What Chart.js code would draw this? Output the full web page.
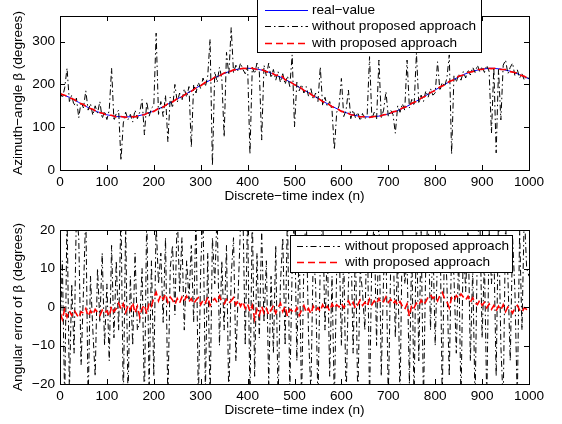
<!DOCTYPE html>
<html>
<head>
<meta charset="utf-8">
<script src="https://cdn.jsdelivr.net/npm/chart.js@4"></script>
<style>
  html, body { margin: 0; padding: 0; background: #fff; }
  #wrap { position: relative; width: 562px; height: 424px; }
  canvas { position: absolute; left: 0; }
  #top { top: 0; }
  #bottom { top: 210px; }
</style>
</head>
<body>
<div id="wrap">
  <canvas id="top" width="562" height="210"></canvas>
  <canvas id="bottom" width="562" height="214"></canvas>
</div>
<script>
/* DATA */
const xTicks = [0, 100, 200, 300, 400, 500, 600, 700, 800, 900, 1000];

// top: azimuth angle, real value every 20 samples
const realStep = 20;
const realValue = [178, 170, 158, 146, 136, 129, 125, 124, 125, 130,
  138, 148, 160, 172, 185, 198, 210, 221, 230, 236,
  238, 236, 231, 222, 212, 200, 187, 174, 161, 149,
  138, 130, 125, 124, 126, 131, 139, 149, 161, 174,
  187, 200, 212, 223, 231, 236, 238, 236, 231, 223, 213];

// top: with proposed approach, every 10 samples
const withStep = 10;
const withAngle = [178, 175, 169, 165, 157, 153, 145, 142, 135, 133,
  128, 128, 124, 125, 123, 125, 124, 128, 129, 135,
  137, 144, 147, 155, 159, 167, 171, 179, 184, 192,
  197, 205, 209, 217, 220, 227, 229, 234, 235, 238,
  237, 238, 235, 235, 230, 228, 221, 223, 211, 207,
  199, 195, 186, 181, 173, 168, 160, 156, 148, 144,
  137, 135, 129, 128, 124, 125, 123, 125, 125, 129,
  130, 136, 138, 145, 148, 156, 160, 168, 173, 181,
  186, 194, 199, 207, 211, 219, 222, 228, 230, 235,
  235, 238, 237, 238, 235, 235, 230, 228, 222, 219, 212];

// top: without proposed approach, every 5 samples
const withoutStep = 5;
const withoutAngle = [185, 168, 192, 238, 160, 175, 150, 168, 122, 160,
  145, 185, 140, 155, 128, 150, 133, 160, 120, 138,
  118, 140, 238, 115, 132, 140, 22, 110, 135, 118,
  130, 112, 140, 120, 135, 165, 82, 160, 125, 145,
  150, 320, 130, 160, 125, 175, 66, 170, 145, 200,
  158, 180, 162, 190, 170, 195, 53, 200, 180, 205,
  190, 215, 195, 220, 306, 10, 230, 205, 240, 215,
  77, 275, 222, 333, 228, 245, 230, 250, 235, 225,
  245, 37, 240, 225, 250, 230, 70, 245, 220, 250,
  215, 235, 210, 230, 205, 225, 200, 220, 195, 269,
  101, 205, 185, 200, 180, 195, 172, 190, 165, 180,
  160, 241, 150, 170, 148, 160, 140, 47, 135, 150,
  214, 125, 140, 187, 120, 140, 122, 135, 115, 132,
  118, 130, 265, 120, 135, 118, 257, 122, 140, 183,
  125, 140, 130, 86, 150, 135, 155, 140, 257, 145,
  165, 150, 273, 155, 175, 160, 185, 170, 190, 175,
  180, 253, 185, 205, 195, 215, 269, 37, 220, 205,
  225, 210, 230, 215, 235, 222, 240, 228, 245, 230,
  242, 228, 245, 230, 86, 240, 40, 235, 117, 245,
  257, 225, 240, 250, 220, 235, 215, 225, 210, 220, 213];

// bottom: angular error, every 5 samples
const errStep = 5;
const errWithout = [-8, 12, -25, 25, -22, 6, -12, 25, 18, -15,
  4, 25, -25, 8, -6, -18, 10, -4, 14, -10,
  6, -14, 16, -8, 12, -6, 25, -25, 22, -24,
  8, -10, 14, -6, -4, 10, -25, 25, -22, 12,
  -18, 22, 6, 14, -4, 18, -25, 10, 16, -2,
  25, 4, 18, -6, 12, 2, 16, -4, 25, -25,
  10, 25, -22, 14, -25, 18, 6, 25, -10, 12,
  -6, 16, -25, 8, 18, -14, 4, 22, 25, -10,
  25, -25, 25, -18, 14, -8, 20, -4, 12, -20,
  8, -12, 16, -25, 6, 18, -10, 25, -22, 10,
  25, -14, 18, -25, 12, 25, -8, -22, 14, 6,
  -25, 12, 25, -6, 16, -18, 8, -25, 10, 18,
  -10, 14, -25, 6, 20, -12, 16, -25, 10, 4,
  -6, 25, -25, 14, 22, -10, 25, -18, 8, 16,
  -25, 10, 18, -8, 14, -25, 22, 6, 12, -20,
  16, -25, 25, -14, 20, -25, 12, 25, -6, 18,
  -10, 14, 25, -25, 20, 6, -18, 16, 8, -12,
  14, -25, 18, 4, 22, -14, 10, -25, 16, 25,
  -8, 12, -25, 20, 6, 16, -18, 25, -10, -25,
  22, 8, -14, 18, 4, -25, 20, -6, 25, 10, 8];

const errWith = [-1.5, -3.2, -0.5, -2.6, -1.0, -2.2, -0.8, -1.8, -2.8, -1.2,
  -1.6, -0.4, -2.4, -1.0, -2.0, -0.6, -1.4, -2.2, -0.8, -1.6,
  -1.0, -2.4, 0.2, -1.2, -0.4, 1.0, -0.6, 0.8, -1.4, 0.4,
  -0.8, 1.2, -1.6, 0.2, -2.6, -0.4, 0.6, -1.8, 1.0, 0.2,
  2.4, 3.8, 1.6, 3.2, 2.0, 3.4, 1.2, 2.6, 1.8, 0.6,
  2.2, 1.0, 2.6, 1.6, 2.8, 1.4, 2.2, 0.8, 1.8, 2.4,
  0.6, 1.8, 1.0, 2.6, 0.4, 1.6, 2.2, 1.2, 2.8, 1.4,
  0.8, 2.0, 1.0, 1.6, 2.4, 0.6, 1.8, 0.2, 1.4, -0.4,
  0.8, -1.2, 0.4, -3.2, -0.6, -2.2, 0.2, -1.6, -0.4, -2.0,
  -0.8, 0.4, -1.6, -0.2, 1.0, -1.2, 0.2, -2.4, -0.6, -1.0,
  -1.6, -0.2, -2.2, -0.8, 0.4, -1.4, -0.4, -1.8, 0.2, -1.0,
  -0.2, -1.2, 0.6, -0.6, 0.2, -1.0, 0.8, -0.4, 0.6, 0.0,
  1.0, -0.2, 0.8, 1.6, 0.2, 1.2, -0.4, 0.6, 1.8, 0.4,
  1.2, 0.2, 2.0, 0.6, 1.6, 0.8, 2.2, 1.0, 1.4, 2.6,
  1.2, 2.0, 0.8, 1.6, 0.4, 1.4, 0.2, -0.6, 0.8, -2.4,
  0.6, -0.2, 1.0, 0.4, 1.8, 0.6, 1.4, 2.6, 3.2, 2.2,
  2.8, 1.6, 3.0, 3.8, 2.2, 1.4, -0.2, 2.4, 1.6, 3.0,
  2.2, 3.4, 2.6, 1.8, 2.8, 1.2, 2.4, 1.0, 0.6, 1.8,
  0.4, 1.2, -0.2, 0.8, -0.6, 0.4, -1.0, 0.2, -0.8, 0.6,
  -1.2, 0.0, -0.4, -1.6, -0.2, 0.4, -0.8, -1.4, -0.2, -0.6, -0.4];

/* HELPERS */
const FONT = '"Liberation Sans", Arial, Helvetica, sans-serif';
const FSIZE = 13.6;
Chart.defaults.font.family = FONT;
Chart.defaults.font.size = FSIZE;
Chart.defaults.color = '#000';

const pts = (vals, step) => vals.map((v, i) => ({ x: i * step, y: v }));
const minus = v => (v < 0 ? '\u2212' + Math.abs(v) : String(v));

// matlab-like box with inward ticks on all four sides
const frame = {
  id: 'frame',
  afterDatasetsDraw(chart) {
    const { ctx, chartArea: a, scales: { x, y } } = chart;
    ctx.save();
    ctx.strokeStyle = '#000';
    ctx.lineWidth = 1;
    ctx.setLineDash([]);
    ctx.strokeRect(a.left + 0.5, a.top + 0.5, a.right - a.left, a.bottom - a.top);
    ctx.beginPath();
    x.ticks.forEach(t => {
      const px = Math.round(x.getPixelForValue(t.value)) + 0.5;
      ctx.moveTo(px, a.bottom); ctx.lineTo(px, a.bottom - 5);
      ctx.moveTo(px, a.top); ctx.lineTo(px, a.top + 5);
    });
    y.ticks.forEach(t => {
      const py = Math.round(y.getPixelForValue(t.value)) + 0.5;
      ctx.moveTo(a.left, py); ctx.lineTo(a.left + 5, py);
      ctx.moveTo(a.right, py); ctx.lineTo(a.right - 5, py);
    });
    ctx.stroke();
    ctx.restore();
  }
};

// legend box inside the axes
const boxLegend = {
  id: 'boxLegend',
  afterDraw(chart, args, opts) {
    const ctx = chart.ctx;
    const [bx, by, bw, bh] = opts.box;
    ctx.save();
    ctx.fillStyle = '#fff';
    ctx.fillRect(bx, by, bw, bh);
    ctx.strokeStyle = '#000';
    ctx.lineWidth = 1;
    ctx.setLineDash([]);
    ctx.strokeRect(bx + 0.5, by + 0.5, bw, bh);
    ctx.font = FSIZE + 'px ' + FONT;
    ctx.textBaseline = 'middle';
    opts.rows.forEach(r => {
      const ds = chart.data.datasets[r.index];
      ctx.strokeStyle = ds.borderColor;
      ctx.lineWidth = ds.borderWidth;
      ctx.setLineDash(ds.borderDash || []);
      ctx.beginPath();
      ctx.moveTo(opts.lineX[0], r.y + 0.5);
      ctx.lineTo(opts.lineX[1], r.y + 0.5);
      ctx.stroke();
      ctx.fillStyle = '#000';
      ctx.fillText(ds.label, opts.textX, r.y);
    });
    ctx.restore();
  }
};

function axes(yMin, yMax, yStep, yTitle) {
  return {
    x: {
      type: 'linear', min: 0, max: 1000,
      afterBuildTicks: s => { s.ticks = xTicks.map(v => ({ value: v })); },
      afterFit: s => { s.height = 40; },
      grid: { display: false, drawTicks: false },
      border: { display: false },
      ticks: { padding: 4, callback: v => String(v), maxRotation: 0 },
      title: { display: true, text: 'Discrete\u2212time index (n)', padding: { top: 0, bottom: 6 } }
    },
    y: {
      min: yMin, max: yMax,
      afterFit: s => { s.width = 60; },
      grid: { display: false, drawTicks: false },
      border: { display: false },
      ticks: { stepSize: yStep, includeBounds: false, padding: 5, callback: minus },
      title: { display: true, text: yTitle, padding: { top: 10, bottom: 0 } }
    }
  };
}

/* TOP CHART */
new Chart(document.getElementById('top'), {
  type: 'line',
  data: {
    datasets: [
      { label: 'real\u2212value', data: pts(realValue, realStep), borderColor: '#0000ff', borderWidth: 1, order: 3 },
      { label: 'without proposed approach', data: pts(withoutAngle, withoutStep), borderColor: '#000', borderWidth: 1, borderDash: [6, 3, 1.5, 3], order: 2 },
      { label: 'with proposed approach', data: pts(withAngle, withStep), borderColor: '#ff0000', borderWidth: 1.6, borderDash: [7, 4], order: 1 }
    ]
  },
  options: {
    responsive: false,
    animation: false,
    elements: { point: { radius: 0 }, line: { tension: 0 } },
    layout: { padding: { top: 16, right: 33, left: 0, bottom: 0 } },
    scales: axes(0, 360, 100, 'Azimuth\u2212angle \u03b2 (degrees)'),
    plugins: {
      legend: { display: false },
      tooltip: { enabled: false },
      boxLegend: {
        box: [257, -2, 224, 54],
        lineX: [265, 308],
        textX: 312,
        rows: [{ index: 0, y: 10 }, { index: 1, y: 26 }, { index: 2, y: 43 }]
      }
    }
  },
  plugins: [frame, boxLegend]
});

/* BOTTOM CHART */
new Chart(document.getElementById('bottom'), {
  type: 'line',
  data: {
    datasets: [
      { label: 'without proposed approach', data: pts(errWithout, errStep), borderColor: '#000', borderWidth: 1, borderDash: [6, 3, 1.5, 3], order: 2 },
      { label: 'with proposed approach', data: pts(errWith, errStep), borderColor: '#ff0000', borderWidth: 1.6, borderDash: [7, 4], order: 1 }
    ]
  },
  options: {
    responsive: false,
    animation: false,
    elements: { point: { radius: 0 }, line: { tension: 0 } },
    layout: { padding: { top: 20, right: 33, left: 0, bottom: 0 } },
    scales: axes(-20, 20, 10, 'Angular error of \u03b2 (degrees)'),
    plugins: {
      legend: { display: false },
      tooltip: { enabled: false },
      boxLegend: {
        box: [290, 25, 222, 37],
        lineX: [297, 340],
        textX: 345,
        rows: [{ index: 0, y: 36 }, { index: 1, y: 52 }]
      }
    }
  },
  plugins: [frame, boxLegend]
});
</script>
</body>
</html>
